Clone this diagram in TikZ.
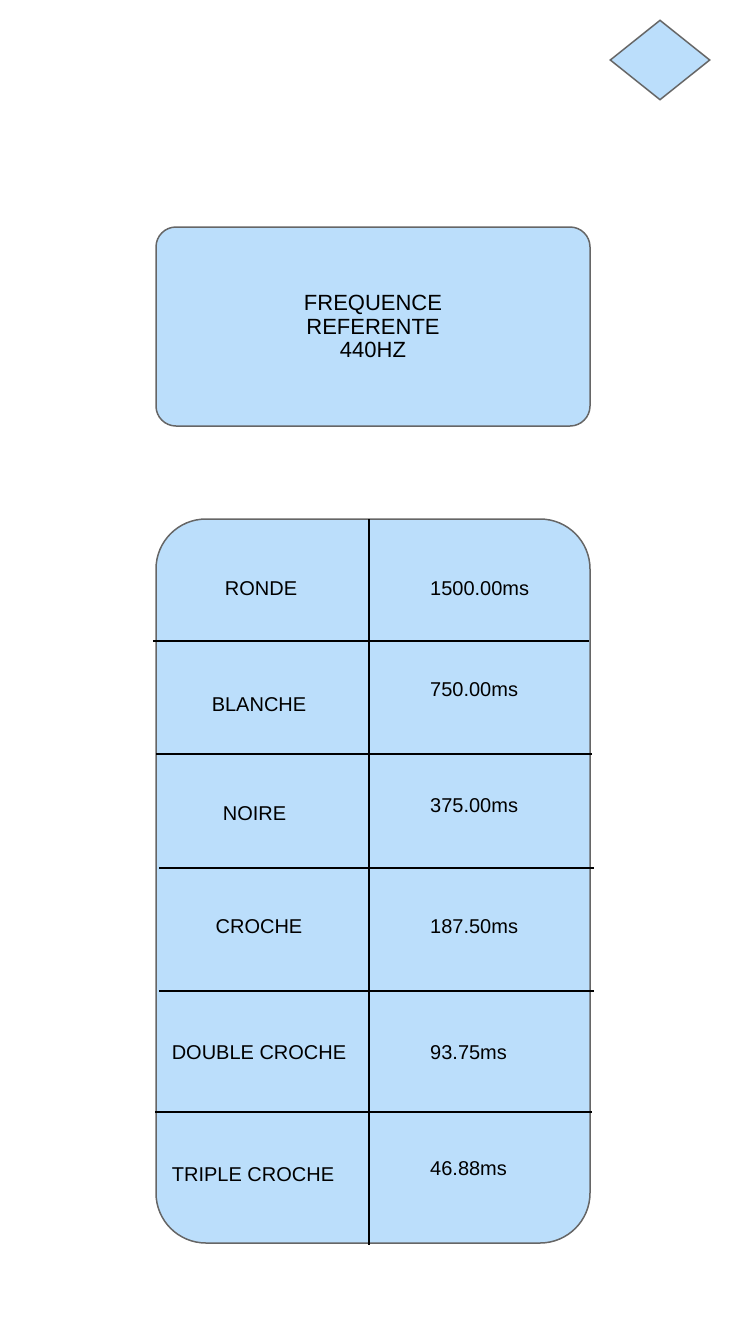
\documentclass[tikz,border=0pt]{standalone}
\usepackage{fontspec}
\setmainfont{Liberation Sans}
\usetikzlibrary{shapes.geometric}
\definecolor{boxfill}{HTML}{BBDEFB}
\definecolor{boxline}{HTML}{666666}
\tikzset{
  box/.style={draw=boxline, fill=boxfill, line width=1.5pt},
  grid/.style={draw=black, line width=1.5pt},
  cell/.style={inner sep=0pt, text height=14.3pt, text depth=0pt, font=\fontsize{20}{23}\selectfont}
}
\begin{document}
\begin{tikzpicture}[x=1pt, y=-1pt]
		\useasboundingbox (0,0) rectangle (750,1334);
		\path
		(660,60) coordinate (L)
		(373,326.5) coordinate (F)
		(373,881) coordinate (T)
		(369,519) coordinate (Vtop)
		(369,1245) coordinate (Vbot)
		;
		\node (losange) [box, diamond, inner sep=0pt, minimum width=100pt, minimum height=80pt] at (L) {};
		\node (freq) [box, rounded corners=20pt, minimum width=434pt, minimum height=199pt, align=center,
			font=\fontsize{22}{23.5}\selectfont] at (F) {FREQUENCE\\REFERENTE\\440HZ};
		\node (tableau) [box, rounded corners=50pt, minimum width=434pt, minimum height=724pt] at (T) {};
		
		\draw[grid] (Vtop) -- (Vbot);
		\foreach \y/\xa/\xb in {641/153/589, 754/156/592, 868/159/594, 991/159/594, 1112/155/592}
		\draw[grid] (\xa,\y) -- (\xb,\y);
		
		\foreach \x/\y/\t [count=\i] in {261/588/RONDE, 259/704/BLANCHE, 254.5/813/NOIRE,
			259/926/CROCHE, 259/1052/DOUBLE CROCHE, 253/1174/TRIPLE CROCHE}
		\node (note\i) [cell] at (\x,\y) {\t};
		
		\foreach \y/\t [count=\i] in {588/1500.00ms, 689/750.00ms, 805/375.00ms,
			926/187.50ms, 1052/93.75ms, 1168/46.88ms}
		\node (duree\i) [cell, anchor=west] at (430,\y) {\t};
	\end{tikzpicture}
\end{document}
